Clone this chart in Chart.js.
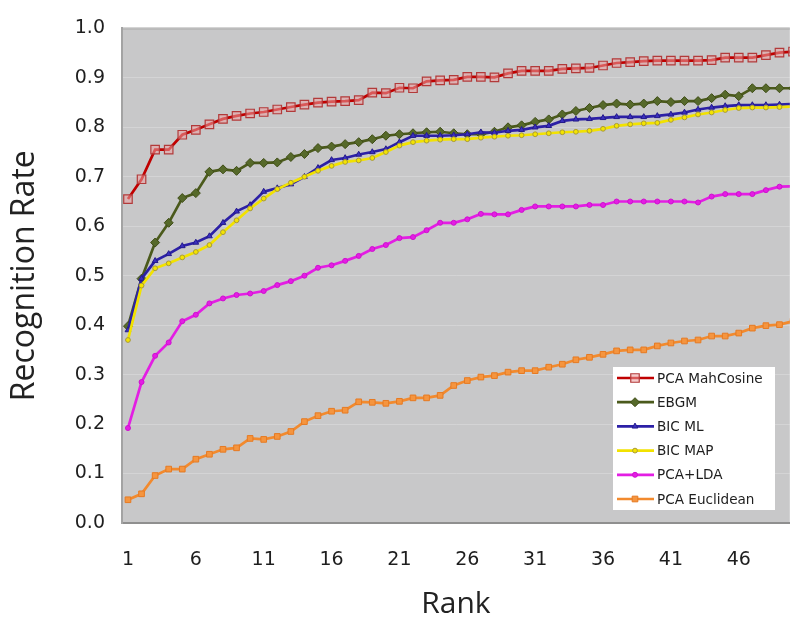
<!DOCTYPE html>
<html>
<head>
<meta charset="utf-8">
<script src="https://cdn.jsdelivr.net/npm/chart.js@4.4.1/dist/chart.umd.min.js"></script>
<style>
  html, body { margin: 0; padding: 0; background: #fff; }
  #wrap { width: 797px; height: 619px; position: relative; }
</style>
</head>
<body>
<div id="wrap"><canvas id="rankChart"></canvas></div>
<script>
// Chart data
const ranks = [1, 2, 3, 4, 5, 6, 7, 8, 9, 10, 11, 12, 13, 14, 15, 16, 17, 18, 19, 20,
    21, 22, 23, 24, 25, 26, 27, 28, 29, 30, 31, 32, 33, 34, 35, 36, 37, 38, 39, 40,
    41, 42, 43, 44, 45, 46, 47, 48, 49, 50];
const xTicks = [1, 6, 11, 16, 21, 26, 31, 36, 41, 46];
const seriesNames = ['PCA MahCosine', 'EBGM', 'BIC ML', 'BIC MAP', 'PCA+LDA', 'PCA Euclidean'];

const pcaMahCosine = [0.655, 0.695, 0.755, 0.755, 0.785, 0.795, 0.806, 0.817, 0.823, 0.828,
    0.831, 0.836, 0.841, 0.846, 0.850, 0.852, 0.853, 0.855, 0.870, 0.869,
    0.880, 0.879, 0.893, 0.895, 0.896, 0.902, 0.902, 0.901, 0.909, 0.914,
    0.914, 0.914, 0.918, 0.919, 0.920, 0.925, 0.930, 0.932, 0.934, 0.935,
    0.935, 0.935, 0.935, 0.936, 0.941, 0.941, 0.941, 0.946, 0.951, 0.953];
const ebgm = [0.398, 0.494, 0.567, 0.607, 0.657, 0.667, 0.710, 0.715, 0.712, 0.728,
    0.728, 0.729, 0.740, 0.746, 0.758, 0.761, 0.766, 0.770, 0.776, 0.783,
    0.786, 0.788, 0.790, 0.791, 0.788, 0.786, 0.786, 0.791, 0.800, 0.804,
    0.811, 0.816, 0.826, 0.833, 0.839, 0.845, 0.848, 0.846, 0.848, 0.853,
    0.851, 0.853, 0.853, 0.859, 0.866, 0.863, 0.879, 0.879, 0.879, 0.879];
const bicML = [0.390, 0.494, 0.530, 0.544, 0.560, 0.567, 0.580, 0.607, 0.630, 0.643,
    0.670, 0.677, 0.685, 0.700, 0.718, 0.734, 0.738, 0.745, 0.750, 0.756,
    0.770, 0.783, 0.783, 0.783, 0.784, 0.786, 0.790, 0.789, 0.793, 0.795,
    0.800, 0.803, 0.813, 0.816, 0.817, 0.819, 0.821, 0.821, 0.821, 0.823,
    0.826, 0.830, 0.836, 0.840, 0.843, 0.845, 0.845, 0.845, 0.846, 0.847];
const bicMAP = [0.370, 0.480, 0.515, 0.525, 0.537, 0.548, 0.562, 0.588, 0.612, 0.636,
    0.656, 0.675, 0.688, 0.700, 0.712, 0.722, 0.730, 0.733, 0.738, 0.750,
    0.763, 0.770, 0.773, 0.775, 0.776, 0.776, 0.779, 0.781, 0.783, 0.784,
    0.786, 0.788, 0.790, 0.791, 0.793, 0.797, 0.803, 0.806, 0.808, 0.809,
    0.815, 0.820, 0.826, 0.830, 0.835, 0.839, 0.840, 0.840, 0.841, 0.842];
const pcaLDA = [0.192, 0.285, 0.338, 0.365, 0.408, 0.421, 0.444, 0.454, 0.461, 0.464,
    0.469, 0.481, 0.489, 0.500, 0.516, 0.521, 0.530, 0.540, 0.554, 0.562,
    0.576, 0.578, 0.592, 0.607, 0.607, 0.614, 0.625, 0.624, 0.624, 0.633,
    0.640, 0.640, 0.640, 0.640, 0.643, 0.643, 0.650, 0.650, 0.650, 0.650,
    0.650, 0.650, 0.648, 0.660, 0.665, 0.665, 0.665, 0.673, 0.680, 0.681];
const pcaEuclidean = [0.047, 0.059, 0.096, 0.109, 0.109, 0.129, 0.139, 0.149, 0.152, 0.171,
    0.169, 0.175, 0.185, 0.205, 0.217, 0.226, 0.228, 0.245, 0.244, 0.242,
    0.246, 0.253, 0.253, 0.258, 0.278, 0.288, 0.295, 0.298, 0.305, 0.308,
    0.308, 0.315, 0.321, 0.330, 0.335, 0.341, 0.348, 0.350, 0.350, 0.358,
    0.364, 0.368, 0.370, 0.378, 0.378, 0.384, 0.394, 0.399, 0.401, 0.408];

const allValues = [pcaMahCosine, ebgm, bicML, bicMAP, pcaLDA, pcaEuclidean];

// look of each series
const styles = [
    { line: '#c00000', fill: 'rgba(236,160,160,0.55)', border: '#b23a3a', point: 'rect', radius: 6, bw: 1.2 },
    { line: '#4b5a1c', fill: '#56692a', border: '#3f4d16', point: 'rectRot', radius: 4.5, bw: 1 },
    { line: '#2c20a6', fill: '#3a2fc0', border: '#241a8a', point: 'triangle', radius: 3.3, bw: 1 },
    { line: '#f2e200', fill: '#f4e400', border: '#a89a3a', point: 'circle', radius: 2.4, bw: 1 },
    { line: '#e31ee3', fill: '#e31ee3', border: '#d010d0', point: 'circle', radius: 2.5, bw: 1 },
    { line: '#f28a2e', fill: '#f5953f', border: '#e67a22', point: 'rect', radius: 4, bw: 1 }
];

const datasets = seriesNames.map((name, i) => ({
    label: name,
    data: allValues[i].map((v, k) => ({ x: ranks[k], y: v })),
    borderColor: styles[i].line,
    borderWidth: 2.7,
    backgroundColor: styles[i].fill,
    pointStyle: styles[i].point,
    pointRadius: styles[i].radius,
    pointBackgroundColor: styles[i].fill,
    pointBorderColor: styles[i].border,
    pointBorderWidth: styles[i].bw,
    tension: 0,
    fill: false,
    order: seriesNames.length - 1 - i
}));

// gray plot background with its frame
const plotBackground = {
    id: 'plotBackground',
    beforeDraw(chart) {
        const { ctx, chartArea: a } = chart;
        ctx.save();
        ctx.fillStyle = '#c8c8c9';
        ctx.fillRect(a.left, a.top, a.right - a.left, a.bottom - a.top);
        ctx.strokeStyle = '#a9a9a9';
        ctx.lineWidth = 2;
        ctx.beginPath();
        ctx.moveTo(a.left, a.top);
        ctx.lineTo(a.right, a.top);
        ctx.stroke();
        ctx.restore();
    }
};

// legend box inside the plot, bottom right
const insideLegend = {
    id: 'insideLegend',
    afterDraw(chart) {
        const { ctx } = chart;
        const boxX = 613, boxY = 367, boxW = 162, boxH = 143;
        const rowH = 24.2;
        ctx.save();
        ctx.fillStyle = '#ffffff';
        ctx.fillRect(boxX, boxY, boxW, boxH);
        ctx.font = '13.6px "DejaVu Sans", Verdana, sans-serif';
        ctx.textBaseline = 'middle';
        ctx.textAlign = 'left';
        chart.data.datasets.forEach((ds, i) => {
            const y = boxY + 11 + i * rowH;
            ctx.strokeStyle = ds.borderColor;
            ctx.lineWidth = 2.7;
            ctx.beginPath();
            ctx.moveTo(boxX + 4, y);
            ctx.lineTo(boxX + 41, y);
            ctx.stroke();
            ctx.fillStyle = ds.pointBackgroundColor;
            ctx.strokeStyle = ds.pointBorderColor;
            ctx.lineWidth = ds.pointBorderWidth;
            Chart.helpers.drawPoint(ctx, {
                pointStyle: ds.pointStyle,
                radius: ds.pointRadius,
                rotation: 0,
                borderWidth: ds.pointBorderWidth
            }, boxX + 22, y);
            ctx.fillStyle = '#1e1e1e';
            ctx.fillText(ds.label, boxX + 44, y + 1);
        });
        ctx.restore();
    }
};

const ctx = document.getElementById('rankChart');
new Chart(ctx, {
    type: 'line',
    data: { datasets: datasets },
    plugins: [plotBackground, insideLegend],
    options: {
        responsive: true,
        maintainAspectRatio: false,
        animation: false,
        layout: { padding: { top: 21, right: 0, bottom: 0, left: 0 } },
        plugins: {
            legend: { display: false },
            tooltip: { enabled: false }
        },
        scales: {
            x: {
                type: 'linear',
                min: 0.56,
                max: 49.76,
                afterBuildTicks: (scale) => {
                    scale.ticks = xTicks.map(v => ({ value: v }));
                },
                afterFit: (scale) => { scale.height = 96; },
                grid: { display: false, drawTicks: false },
                border: { display: true, color: '#8f8f8f', width: 2 },
                ticks: {
                    padding: 26,
                    color: '#1e1e1e',
                    font: { family: '"DejaVu Sans", Verdana, sans-serif', size: 19 },
                    maxRotation: 0,
                    callback: (v) => String(v)
                },
                title: {
                    display: true,
                    text: 'Rank',
                    color: '#222',
                    padding: 0,
                    font: { family: '"Open Sans", sans-serif', size: 30, lineHeight: 1 }
                }
            },
            y: {
                min: 0,
                max: 1,
                afterFit: (scale) => { scale.width = 122; },
                grid: { color: 'rgba(255,255,255,0.22)', lineWidth: 1, drawTicks: false },
                border: { display: true, color: '#a3a3a3', width: 2 },
                ticks: {
                    stepSize: 0.1,
                    padding: 17,
                    color: '#1e1e1e',
                    font: { family: '"DejaVu Sans", Verdana, sans-serif', size: 19 },
                    callback: (v) => v.toFixed(1)
                },
                title: {
                    display: true,
                    text: 'Recognition Rate',
                    color: '#222',
                    padding: { top: 9, bottom: 0 },
                    font: { family: '"Open Sans", sans-serif', size: 32, lineHeight: 1 }
                }
            }
        }
    }
});
</script>
</body>
</html>
